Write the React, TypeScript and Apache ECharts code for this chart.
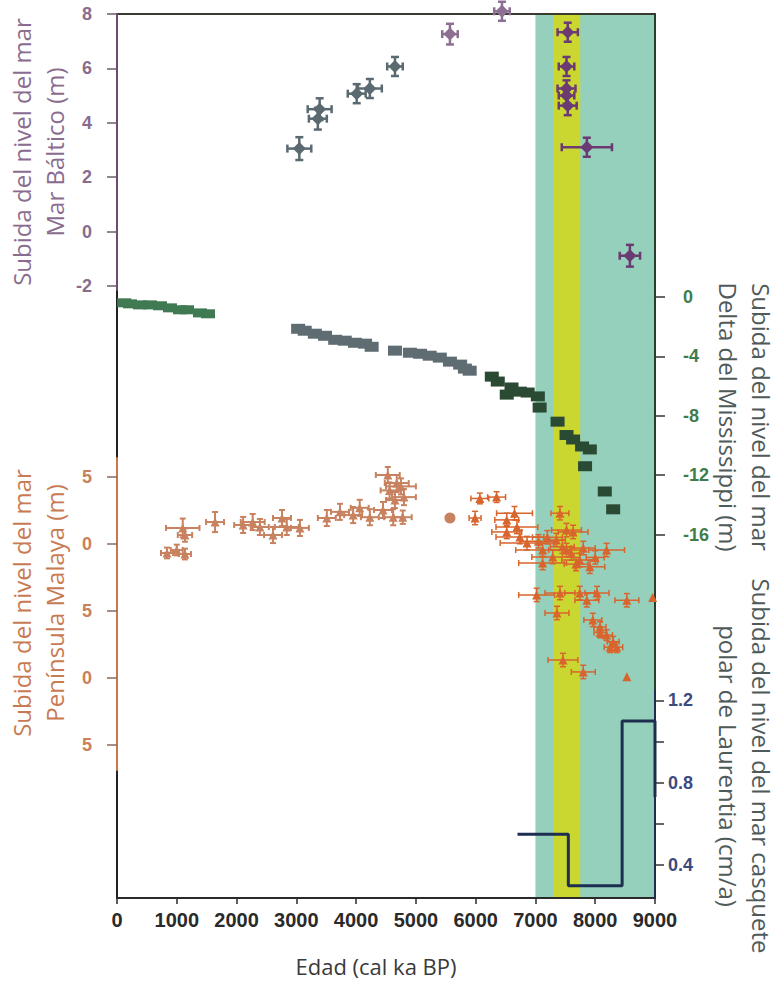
import React, { useEffect, useRef } from "react";
import * as echarts from "echarts";

// ---------- X axis ----------
const ageTicks = [0, 1000, 2000, 3000, 4000, 5000, 6000, 7000, 8000, 9000];
const bandTeal = [7000, 9000];
const bandYellow = [7300, 7750];

// ---------- Baltic (m) ----------
const balticTicks = [-2, 0, 2, 4, 6, 8];
const balticEarlyAge = [3050, 3360, 3390, 4010, 4230, 4650];
const balticEarlyLevel = [3.05, 4.15, 4.5, 5.07, 5.26, 6.07];
const balticEarlyAgeErr = [200, 150, 200, 150, 200, 130];
const balticEarlyLevelErr = [0.42, 0.4, 0.4, 0.35, 0.35, 0.35];
const balticMidAge = [5570, 6440];
const balticMidLevel = [7.26, 8.1];
const balticMidAgeErr = [130, 130];
const balticMidLevelErr = [0.38, 0.35];
const balticLateAge = [7540, 7520, 7520, 7520, 7540, 7860, 8580];
const balticLateLevel = [7.33, 6.07, 5.26, 5.0, 4.63, 3.1, -0.89];
const balticLateAgeErr = [170, 130, 150, 130, 150, 420, 170];
const balticLateLevelErr = [0.35, 0.35, 0.3, 0.3, 0.35, 0.35, 0.4];

// ---------- Mississippi delta (m) ----------
const missTicks = [0, -4, -8, -12, -16];
const missEarlyAge = [120, 217, 385, 552, 719, 886, 1054, 1171, 1388, 1522];
const missEarlyLevel = [-0.4, -0.47, -0.54, -0.54, -0.6, -0.74, -0.87, -0.87, -1.08, -1.14];
const missMidAge = [3030, 3140, 3310, 3480, 3650, 3810, 3980, 4150, 4260, 4650, 4900, 5070, 5230, 5400, 5570, 5740, 5820, 5900];
const missMidLevel = [-2.15, -2.28, -2.48, -2.62, -2.89, -2.95, -3.09, -3.15, -3.36, -3.62, -3.76, -3.83, -3.96, -4.09, -4.36, -4.56, -4.83, -4.97];
const missLateAge = [6270, 6370, 6520, 6600, 6740, 6870, 7040, 7070, 7370, 7520, 7630, 7780, 7910, 7830, 8160, 8300];
const missLateLevel = [-5.37, -5.7, -6.58, -6.1, -6.38, -6.44, -6.7, -7.45, -8.4, -9.3, -9.6, -10.07, -10.27, -11.4, -13.1, -14.3];

// ---------- Malay Peninsula (m) ----------
const malayaTicks = [5, 0, -5, -10, -15];
const malayaTickLabels = ["5", "0", "5", "0", "5"];
const malayaEarlyAge = [836, 1000, 1137, 1100, 1137, 1640, 2110, 2270, 2390, 2610, 2760, 2840, 3060, 3510, 3730, 3950, 4060, 4230, 4450, 4530, 4560, 4620, 4650, 4680, 4750, 4800, 4780];
const malayaEarlyLevel = [-0.67, -0.45, -0.75, 1.2, 0.67, 1.64, 1.42, 1.64, 1.27, 0.67, 1.94, 1.27, 1.2, 1.94, 2.4, 2.16, 2.7, 2.0, 2.54, 5.15, 4.0, 2.0, 3.28, 4.55, 4.3, 3.5, 2.0];
const malayaEarlyAgeErr = [100, 100, 100, 280, 120, 150, 150, 200, 150, 150, 150, 200, 150, 150, 150, 150, 150, 150, 150, 200, 150, 150, 150, 200, 250, 200, 150];
const malayaEarlyLevelErr = [0.4, 0.4, 0.4, 0.7, 0.5, 0.75, 0.6, 0.6, 0.6, 0.6, 0.6, 0.6, 0.6, 0.6, 0.6, 0.6, 0.6, 0.6, 0.6, 0.6, 0.6, 0.6, 0.6, 0.6, 0.6, 0.6, 0.5];
const malayaRoundAge = [5570];
const malayaRoundLevel = [1.94];
const malayaLateAge = [5990, 6070, 6350, 6520, 6650, 6690, 6520, 6740, 6860, 7120, 7410, 7520, 7630, 7290, 7520, 7740, 7910, 8190, 7120, 7020, 7410, 7740, 7860, 8030, 8530, 8960, 7360, 7960, 8080, 8190, 8300, 8360, 7460, 7800, 8530, 8080, 8250, 7350, 7450, 7600, 7200, 7680, 7050, 7800, 8000];
const malayaLateLevel = [1.94, 3.4, 3.5, 1.8, 2.3, 1.27, 0.9, 0.52, 0.07, -0.45, 2.3, 1.04, 0.9, -0.97, -0.45, -1.2, -1.7, -0.45, -1.42, -3.8, -3.66, -3.66, -4.2, -3.66, -4.2, -4.0, -5.15, -5.67, -6.2, -6.8, -7.3, -7.7, -8.66, -9.55, -9.9, -6.6, -7.7, 0.3, -0.2, -0.7, 0.5, -1.5, 0.2, -0.3, -1.0];
const malayaLateAgeErr = [100, 150, 150, 200, 300, 350, 250, 400, 450, 450, 150, 250, 250, 350, 300, 300, 250, 300, 400, 300, 250, 250, 200, 200, 200, 0, 200, 150, 100, 100, 100, 100, 250, 200, 0, 100, 100, 150, 200, 150, 250, 200, 300, 200, 150];
const malayaLateLevelErr = [0.5, 0.4, 0.4, 0.5, 0.5, 0.5, 0.5, 0.5, 0.5, 0.5, 0.5, 0.5, 0.5, 0.5, 0.5, 0.5, 0.5, 0.5, 0.5, 0.5, 0.5, 0.5, 0.5, 0.5, 0.5, 0, 0.5, 0.5, 0.4, 0.4, 0.4, 0.4, 0.5, 0.5, 0, 0.4, 0.4, 0.5, 0.5, 0.5, 0.5, 0.5, 0.5, 0.5, 0.5];

// ---------- Laurentide ice sheet (cm/a) ----------
const laurTicks = [0.4, 0.6, 0.8, 1.0, 1.2];
const laurLabels = [0.4, 0.8, 1.2];
const laurAge = [6700, 7550, 7550, 8450, 8450, 9000, 9000];
const laurRate = [0.55, 0.55, 0.3, 0.3, 1.1, 1.1, 0.73];

const zip = (a: number[], b: number[]) => a.map((v, i) => [v, b[i]]);

function errSeries(grid: number, ages: number[], vals: number[], ae: number[], ve: number[], color: string, width: number, cap: number) {
  return {
    type: "custom",
    xAxisIndex: grid,
    yAxisIndex: grid,
    z: 5,
    silent: true,
    clip: false,
    data: ages.map((a, i) => [a, vals[i], ae[i], ve[i]]),
    encode: { x: 0, y: 1 },
    renderItem: (params: any, api: any) => {
      const x = api.value(0), y = api.value(1), ex = api.value(2), ey = api.value(3);
      const style = { stroke: color, lineWidth: width };
      const children: any[] = [];
      if (ex > 0) {
        const l = api.coord([x - ex, y]);
        const r = api.coord([x + ex, y]);
        children.push({ type: "line", shape: { x1: l[0], y1: l[1], x2: r[0], y2: r[1] }, style });
        children.push({ type: "line", shape: { x1: l[0], y1: l[1] - cap, x2: l[0], y2: l[1] + cap }, style });
        children.push({ type: "line", shape: { x1: r[0], y1: r[1] - cap, x2: r[0], y2: r[1] + cap }, style });
      }
      if (ey > 0) {
        const t = api.coord([x, y + ey]);
        const b = api.coord([x, y - ey]);
        children.push({ type: "line", shape: { x1: t[0], y1: t[1], x2: b[0], y2: b[1] }, style });
        children.push({ type: "line", shape: { x1: t[0] - cap, y1: t[1], x2: t[0] + cap, y2: t[1] }, style });
        children.push({ type: "line", shape: { x1: b[0] - cap, y1: b[1], x2: b[0] + cap, y2: b[1] }, style });
      }
      return { type: "group", children };
    },
  };
}

function markSeries(grid: number, ages: number[], vals: number[], color: string, symbol: string, size: any) {
  return {
    type: "scatter",
    xAxisIndex: grid,
    yAxisIndex: grid,
    z: 6,
    clip: false,
    silent: true,
    symbol,
    symbolSize: size,
    itemStyle: { color, opacity: 1 },
    data: zip(ages, vals),
  };
}

const labelFont = { fontFamily: "Liberation Sans", fontWeight: "bold", fontSize: 18 };

function hiddenX(gridIndex: number) {
  return { gridIndex, type: "value", min: 0, max: 9000, show: false };
}

export default function App() {
  const ref = useRef<HTMLDivElement>(null);
  useEffect(() => {
    document.body.style.margin = "0";
    document.body.style.overflow = "hidden";
    const chart = echarts.init(ref.current!, null, { renderer: "svg" });
    const C = {
      teal: "#94d0bb",
      yellow: "#cbd731",
      baltSlate: "#5a6a70",
      baltLav: "#8d6f93",
      baltPurple: "#6c3a73",
      missGreen: "#3f7a52",
      missGray: "#5f6d73",
      missDark: "#2b4a34",
      malEarly: "#c8825f",
      malLate: "#d8652d",
      navy: "#1e2e50",
    };
    const titleStyle = { font: '24px "Open Sans"', fontSize: 24, fontFamily: "Open Sans", lineHeight: 33, align: "center", verticalAlign: "middle", textAlign: "center", textVerticalAlign: "middle" };
    const option: any = {
      animation: false,
      grid: [
        { left: 117, top: 14, width: 538, height: 884 },
        { left: 117, top: 14, width: 538, height: 276 },
        { left: 117, top: 282, width: 538, height: 312 },
        { left: 117, top: 458, width: 538, height: 312 },
        { left: 117, top: 690, width: 538, height: 208 },
      ],
      xAxis: [
        {
          gridIndex: 0, type: "value", min: 0, max: 9000, position: "bottom", z: 3,
          axisLine: { show: true, onZero: false, lineStyle: { color: "#2a2a2a", width: 2 } },
          axisTick: { show: true, length: 6, customValues: ageTicks, lineStyle: { color: "#2a2a2a", width: 1.5 } },
          axisLabel: { ...labelFont, fontSize: 20, color: "#2a2a2a", margin: 12, customValues: ageTicks, formatter: (v: number) => String(v) },
          splitLine: { show: false },
        },
        hiddenX(1), hiddenX(2), hiddenX(3), hiddenX(4),
        {
          gridIndex: 0, type: "value", min: 0, max: 9000, position: "top", z: 3,
          axisLine: { show: true, onZero: false, lineStyle: { color: "#3a3a2e", width: 2 } },
          axisTick: { show: false }, axisLabel: { show: false }, splitLine: { show: false },
        },
      ],
      yAxis: [
        {
          gridIndex: 0, type: "value", min: 0, max: 1, position: "left", z: 3,
          axisLine: { show: true, onZero: false, lineStyle: { color: "#222", width: 2 } },
          axisTick: { show: false }, axisLabel: { show: false }, splitLine: { show: false },
        },
        {
          gridIndex: 1, type: "value", min: -2.15, max: 8, position: "left", z: 4,
          axisLine: { show: true, onZero: false, lineStyle: { color: "#6e4c70", width: 2 } },
          axisTick: { show: true, length: 10, customValues: balticTicks, lineStyle: { color: "#6e5a70", width: 1.5 } },
          axisLabel: { ...labelFont, color: "#8a6d8e", margin: 25, customValues: balticTicks },
          splitLine: { show: false },
        },
        {
          gridIndex: 2, type: "value", min: -20, max: 1, position: "right", z: 4,
          axisLine: { show: true, onZero: false, lineStyle: { color: "#25402c", width: 2 } },
          axisTick: { show: true, length: 10, customValues: missTicks, lineStyle: { color: "#333", width: 1.5 } },
          axisLabel: { ...labelFont, color: "#3f7d4a", margin: 28, customValues: missTicks },
          splitLine: { show: false },
        },
        {
          gridIndex: 3, type: "value", min: -16.87, max: 6.42, position: "left", z: 4,
          axisLine: { show: true, onZero: false, lineStyle: { color: "#c8784a", width: 2 } },
          axisTick: { show: true, length: 10, customValues: malayaTicks, lineStyle: { color: "#8a6a5a", width: 1.5 } },
          axisLabel: {
            ...labelFont, color: "#c98158", margin: 25, customValues: malayaTicks,
            formatter: (v: number) => { const i = malayaTicks.indexOf(v); return i >= 0 ? malayaTickLabels[i] : ""; },
          },
          splitLine: { show: false },
        },
        {
          gridIndex: 4, type: "value", min: 0.24, max: 1.25, position: "right", z: 4,
          axisLine: { show: true, onZero: false, lineStyle: { color: "#1e2e50", width: 2 } },
          axisTick: { show: true, length: 9, customValues: laurTicks, lineStyle: { color: "#333", width: 1.5 } },
          axisLabel: { ...labelFont, color: "#3c4a7e", margin: 13, customValues: laurLabels, formatter: (v: number) => v.toFixed(1) },
          splitLine: { show: false },
        },
        {
          gridIndex: 0, type: "value", min: 0, max: 1, position: "right", z: 3,
          axisLine: { show: true, onZero: false, lineStyle: { color: "#25402c", width: 2 } },
          axisTick: { show: false }, axisLabel: { show: false }, splitLine: { show: false },
        },
      ],
      series: [
        {
          type: "scatter", xAxisIndex: 0, yAxisIndex: 0, z: 1, silent: true, data: [],
          markArea: {
            silent: true,
            itemStyle: { color: C.teal, opacity: 1 },
            data: [[{ xAxis: bandTeal[0], yAxis: 0 }, { xAxis: bandTeal[1], yAxis: 1 }]],
          },
        },
        {
          type: "scatter", xAxisIndex: 0, yAxisIndex: 0, z: 1, silent: true, data: [],
          markArea: {
            silent: true,
            itemStyle: { color: C.yellow, opacity: 1 },
            data: [[{ xAxis: bandYellow[0], yAxis: 0 }, { xAxis: bandYellow[1], yAxis: 1 }]],
          },
        },
        // Baltic
        errSeries(1, balticEarlyAge, balticEarlyLevel, balticEarlyAgeErr, balticEarlyLevelErr, C.baltSlate, 2.5, 4),
        errSeries(1, balticMidAge, balticMidLevel, balticMidAgeErr, balticMidLevelErr, C.baltLav, 2.5, 4),
        errSeries(1, balticLateAge, balticLateLevel, balticLateAgeErr, balticLateLevelErr, C.baltPurple, 2.5, 4),
        markSeries(1, balticEarlyAge, balticEarlyLevel, C.baltSlate, "diamond", 13),
        markSeries(1, balticMidAge, balticMidLevel, C.baltLav, "diamond", 13),
        markSeries(1, balticLateAge, balticLateLevel, C.baltPurple, "diamond", 13),
        // Mississippi
        markSeries(2, missEarlyAge, missEarlyLevel, C.missGreen, "rect", [14, 9]),
        markSeries(2, missMidAge, missMidLevel, C.missGray, "rect", [14, 10]),
        markSeries(2, missLateAge, missLateLevel, C.missDark, "rect", [14, 10]),
        // Malaya
        errSeries(3, malayaEarlyAge, malayaEarlyLevel, malayaEarlyAgeErr, malayaEarlyLevelErr, C.malEarly, 2, 3),
        errSeries(3, malayaLateAge, malayaLateLevel, malayaLateAgeErr, malayaLateLevelErr, C.malLate, 1.5, 3),
        markSeries(3, malayaEarlyAge, malayaEarlyLevel, C.malEarly, "triangle", 9),
        markSeries(3, malayaLateAge, malayaLateLevel, C.malLate, "triangle", 9),
        markSeries(3, malayaRoundAge, malayaRoundLevel, C.malEarly, "circle", 11),
        // Laurentide
        {
          type: "line", xAxisIndex: 4, yAxisIndex: 4, z: 5, silent: true, symbol: "none", clip: false,
          lineStyle: { color: C.navy, width: 3 },
          data: zip(laurAge, laurRate),
        },
      ],
      graphic: [
        {
          type: "text", x: 38, y: 152, rotation: Math.PI / 2, z: 10,
          style: { ...titleStyle, text: "Subida del nivel del mar\nMar Báltico (m)", fill: "#8a6c8f" },
        },
        {
          type: "text", x: 38, y: 603, rotation: Math.PI / 2, z: 10,
          style: { ...titleStyle, text: "Subida del nivel del mar\nPenínsula Malaya (m)", fill: "#c87a52" },
        },
        {
          type: "text", x: 745, y: 417, rotation: -Math.PI / 2, z: 10,
          style: { ...titleStyle, text: "Subida del nivel del mar\nDelta del Mississippi (m)", fill: "#4f5a5a" },
        },
        {
          type: "text", x: 745, y: 766, rotation: -Math.PI / 2, z: 10,
          style: { ...titleStyle, text: "Subida del nivel del mar casquete\npolar de Laurentia (cm/a)", fill: "#4f5a5a" },
        },
        {
          type: "text", x: 376, y: 966, z: 10,
          style: { text: "Edad (cal ka BP)", fill: "#3a3a3a", font: '22px "Open Sans"', fontSize: 22, fontFamily: "Open Sans", align: "center", verticalAlign: "middle", textAlign: "center", textVerticalAlign: "middle" },
        },
      ],
    };
    chart.setOption(option);
    return () => chart.dispose();
  }, []);
  return <div ref={ref} style={{ width: 777, height: 984 }} />;
}
